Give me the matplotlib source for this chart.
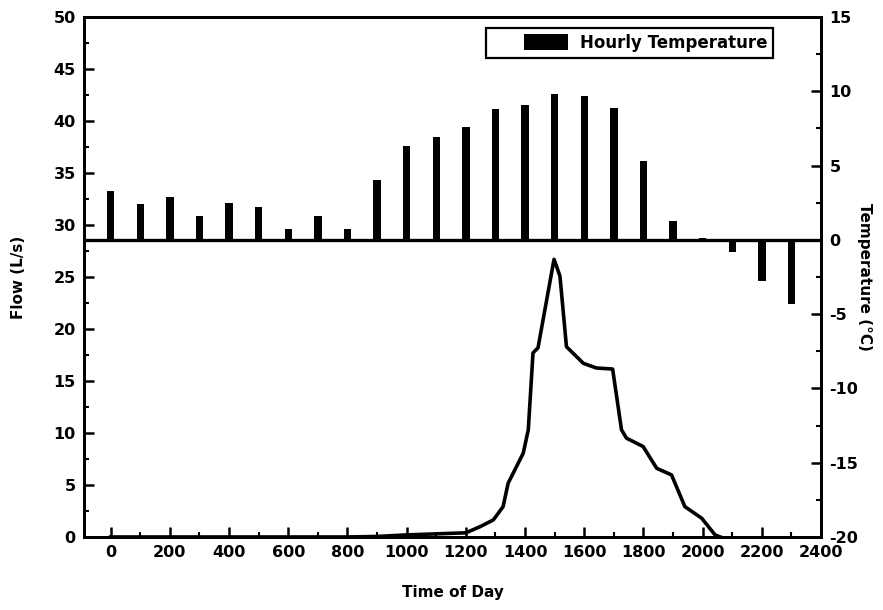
import matplotlib
matplotlib.use('Agg')
import matplotlib.pyplot as plt
from matplotlib.ticker import MultipleLocator
from matplotlib.legend_handler import HandlerPatch, update_from_first_child
from matplotlib.container import BarContainer
from matplotlib.patches import Rectangle

plt.rcParams['font.family'] = ['DejaVu Sans']
plt.rcParams['font.weight'] = 'bold'
plt.rcParams['axes.unicode_minus'] = False

# hourly temperature (right axis)
hours = [0, 100, 200, 300, 400, 500, 600, 700, 800, 900, 1000, 1100,
         1200, 1300, 1400, 1500, 1600, 1700, 1800, 1900, 2000, 2100, 2200, 2300]
temps = [3.3, 2.4, 2.9, 1.6, 2.5, 2.2, 0.7, 1.6, 0.7, 4.0, 6.3, 6.9,
         7.6, 8.8, 9.1, 9.8, 9.7, 8.9, 5.3, 1.3, 0.15, -0.85, -2.8, -4.3]

# flow hydrograph (left axis)
flow_t = [0, 800, 900, 1000, 1100, 1200, 1248, 1293, 1326, 1343, 1394, 1411, 1427,
          1444, 1498, 1518, 1540, 1597, 1641, 1696, 1726, 1743, 1799, 1845, 1895,
          1940, 1997, 2042, 2060]
flow_v = [0, 0, 0.05, 0.2, 0.3, 0.4, 0.99, 1.64, 2.92, 5.17, 8.06, 10.3, 17.7,
          18.2, 26.7, 25.1, 18.3, 16.7, 16.25, 16.15, 10.3, 9.5, 8.7, 6.6, 5.97,
          2.92, 1.8, 0.2, 0]

x_ticks = list(range(0, 2401, 200))


# legend patch sits in the right part of a wide handle box (blank space on the left)
def right_patch(legend, orig_handle, xdescent, ydescent, width, height, fontsize):
    return Rectangle((-xdescent + width * 0.42, -ydescent), width * 0.58, height)


fig = plt.figure(figsize=(8.83, 6.10), dpi=100)
ax = fig.add_axes([0.0951, 0.1197, 0.8347, 0.8524])

ax.plot(flow_t, flow_v, color='black', lw=2.6, solid_joinstyle='round')
ax.set_xlim(-90, 2400)
ax.set_ylim(0, 50)
ax.set_xticks(x_ticks)
ax.xaxis.set_minor_locator(MultipleLocator(100))
ax.yaxis.set_major_locator(MultipleLocator(5))
ax.yaxis.set_minor_locator(MultipleLocator(2.5))
ax.set_xlabel('Time of Day', fontsize=11, fontweight='bold', labelpad=18)
ax.set_ylabel('Flow (L/s)', fontsize=11, fontweight='bold', labelpad=20)

ax2 = ax.twinx()
ax2.bar(hours, temps, width=25, color='black', label='Hourly Temperature')
ax2.axhline(0, color='black', lw=2.4)
ax2.set_ylim(-20, 15)
ax2.yaxis.set_major_locator(MultipleLocator(5))
ax2.yaxis.set_minor_locator(MultipleLocator(2.5))
ax2.set_ylabel('Temperature (°C)', fontsize=11, fontweight='bold',
               rotation=270, labelpad=10)

for a in (ax, ax2):
    a.tick_params(which='major', direction='in', length=7, width=1.8,
                  labelsize=11.5, pad=6)
    a.tick_params(which='minor', direction='in', length=3.5, width=1.5)
    for sp in a.spines.values():
        sp.set_linewidth(2)
    for lab in a.get_xticklabels() + a.get_yticklabels():
        lab.set_fontweight('bold')

bar_handler = HandlerPatch(patch_func=right_patch, update_func=update_from_first_child)
leg = ax2.legend(loc='upper right', bbox_to_anchor=(0.935, 0.979), borderaxespad=0,
                 fancybox=False, edgecolor='black', framealpha=1,
                 handlelength=4.6, handleheight=1.05, borderpad=0.35,
                 handletextpad=0.7,
                 handler_map={BarContainer: bar_handler},
                 prop={'size': 12, 'weight': 'bold'})
leg.get_frame().set_linewidth(1.6)

fig.savefig('out.png', dpi=100)
